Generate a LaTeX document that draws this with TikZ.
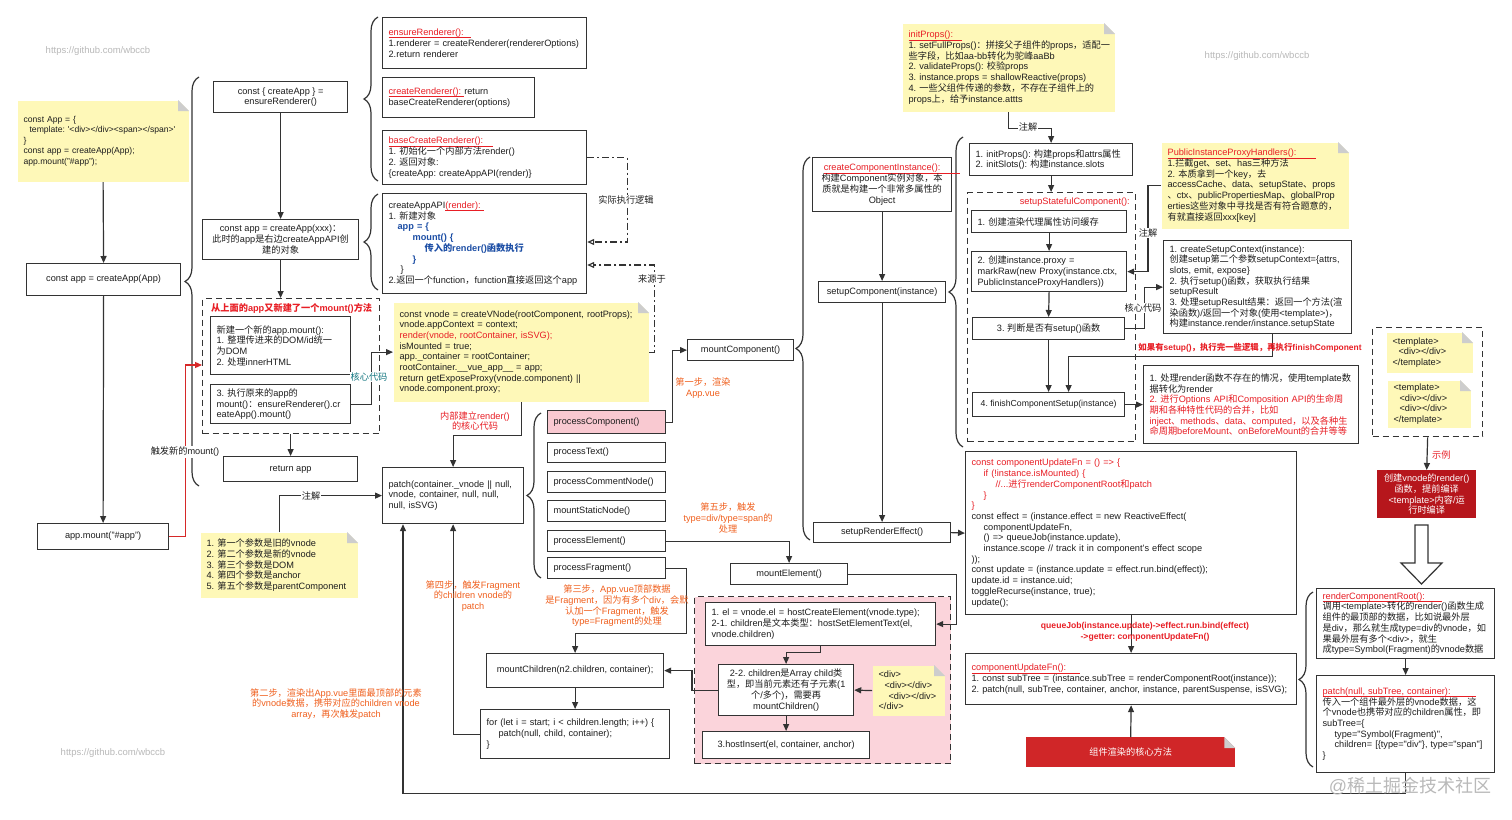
\documentclass[tikz,border=0pt]{standalone}
\usepackage{fontspec}
\setmainfont{Liberation Sans}
\newfontfamily\latinfont{Liberation Sans}
\newfontfamily\cjkfont{Noto Sans CJK SC}
\usetikzlibrary{arrows.meta,decorations.pathreplacing}

\XeTeXinterchartokenstate=1
\chardef\hanclass=7
\newcommand\sethanrange[2]{\count255=#1 \loop\XeTeXcharclass\count255=\hanclass\ifnum\count255<#2 \advance\count255 by 1 \repeat}
\sethanrange{"3000}{"303F}
\sethanrange{"4E00}{"9FFF}
\sethanrange{"FF00}{"FFEF}
\XeTeXinterchartoks 0 \hanclass = {\cjkfont}
\XeTeXinterchartoks 4095 \hanclass = {\cjkfont}
\XeTeXinterchartoks \hanclass 0 = {\latinfont}
\XeTeXinterchartoks \hanclass 4095 = {\latinfont}
\frenchspacing

\definecolor{linegray}{RGB}{51,51,51}
\definecolor{txtblack}{RGB}{30,30,30}
\definecolor{fnred}{RGB}{232,30,37}
\definecolor{trigred}{RGB}{214,40,40}
\definecolor{steporange}{RGB}{240,96,30}
\definecolor{notey}{RGB}{254,248,184}
\definecolor{foldgray}{RGB}{205,205,205}
\definecolor{pinkarea}{RGB}{251,212,219}
\definecolor{pinkbox}{RGB}{249,201,209}
\definecolor{codeblue}{RGB}{28,78,165}
\definecolor{tealtext}{RGB}{18,118,128}
\definecolor{deepred}{RGB}{182,22,28}
\definecolor{corered}{RGB}{208,38,40}
\definecolor{markgray}{RGB}{185,185,185}

\newcommand\fnhead[2]{\leavevmode{\color{fnred}\rlap{\rule[-2.4pt]{#2}{0.6pt}}#1}}
\newcommand\notefold[3]{%
  \fill[#2] ([xshift=-11pt]#1.north east) -- (#1.north east) -- ([yshift=-11pt]#1.north east) -- cycle;
  \fill[#3] ([xshift=-11pt]#1.north east) -- ([xshift=-11pt,yshift=-11pt]#1.north east) -- ([yshift=-11pt]#1.north east) -- cycle;}

\begin{document}
\begin{tikzpicture}[x=1pt, y=-1pt,
  font=\fontsize{9.2}{10.7}\selectfont\frenchspacing,
  fnbox/.style={draw=linegray, line width=1.2pt, fill=white, text=txtblack, anchor=north west, inner xsep=6pt, inner ysep=2pt},
  leftbox/.style={fnbox, align=left, execute at begin node={\rightskip=0pt plus 1fil minus 2000pt}},
  notebox/.style={leftbox, draw=none, fill=notey},
  dashbox/.style={draw=linegray, line width=1.3pt, dash pattern=on 6pt off 4pt, anchor=north west, inner sep=0pt},
  flow/.style={draw=linegray, line width=1.2pt, -{Triangle[length=7pt,width=6pt]}},
  hintflow/.style={flow, dash pattern=on 7pt off 3pt on 2pt off 3pt, -{Triangle[open,length=7pt,width=6pt]}},
  curly/.style={draw=linegray, line width=1.2pt, decorate, decoration={brace, amplitude=14pt}},
  onlink/.style={fill=white, inner sep=1pt, text=txtblack},
  stepnote/.style={text=steporange, align=center, inner sep=0pt},
  wmark/.style={text=markgray, inner sep=0pt, font=\fontsize{9.5}{11}\selectfont}]
\useasboundingbox (0,0) rectangle (1512,819);
\fill[white] (0,0) rectangle (1512,819);

\node[wmark] (gh1) at (98,51) {https://github.com/wbccb};
\node[wmark] (gh2) at (1257,56) {https://github.com/wbccb};
\node[wmark] (gh3) at (113,753) {https://github.com/wbccb};

\draw[curly] (199,486) -- (199,77);
\draw[curly] (378,181) -- (378,17);
\draw[curly] (378,290) -- (378,194);
\draw[curly] (541,578) -- (541,413);
\draw[curly] (810,540) -- (810,157);
\draw[curly] (963,447) -- (963,137);
\draw[curly] (1313,767) -- (1313,592);

\node[notebox, text width=159pt, minimum height=81, font=\fontsize{8.6}{10.4}\selectfont] (appNote) at (17,100) {const App = \{\\\hspace*{6pt}template: \textquotesingle<div></div><span></span>\textquotesingle\\\}\\const app = createApp(App);\\app.mount("\#app");};
\notefold{appNote}{white}{foldgray}
\node[fnbox, minimum width=154, minimum height=32] (createApp) at (26,263) {const app = createApp(App)};
\node[fnbox, minimum width=131, minimum height=26] (appMount) at (37,523) {app.mount("\#app")};
\node[fnbox, align=center, minimum width=134, minimum height=31] (ensureCall) at (213,81) {const \{ createApp \} =\\ensureRenderer()};
\node[fnbox, align=center, minimum width=156, minimum height=40] (createAppXxx) at (202,219) {const app = createApp(xxx)：\\此时的app是右边createAppAPI创\\建的对象};
\node[dashbox, minimum width=177, minimum height=135] (mountArea) at (202,298) {};
\node[anchor=west, text=fnred, font=\bfseries\fontsize{9.2}{10.7}\selectfont, inner sep=0pt] (mountTitle) at (211,308) {从上面的app又新建了一个mount()方法};
\node[leftbox, text width=128pt, minimum height=58] (newMount) at (210,316) {新建一个新的app.mount():\\1. 整理传进来的DOM/id统一\\为DOM\\2. 处理innerHTML};
\node[leftbox, text width=128pt, minimum height=39] (oldMount) at (210,384) {3. 执行原来的app的\\mount()：ensureRenderer().cr\\eateApp().mount()};
\node[fnbox, minimum width=134, minimum height=25] (returnApp) at (223,456) {return app};
\node[notebox, text width=145pt, minimum height=65] (argNote) at (200,532) {1. 第一个参数是旧的vnode\\2. 第二个参数是新的vnode\\3. 第三个参数是DOM\\4. 第四个参数是anchor\\5. 第五个参数是parentComponent};
\notefold{argNote}{white}{foldgray}

\node[leftbox, text width=192pt, minimum height=51] (ensureFn) at (382,17) {\fnhead{ensureRenderer():}{82pt}\\1.renderer = createRenderer(rendererOptions)\\2.return renderer};
\node[leftbox, text width=140pt, minimum height=40] (createFn) at (382,77) {\fnhead{createRenderer():}{75pt} return\\baseCreateRenderer(options)};
\node[leftbox, text width=192pt, minimum height=54] (baseFn) at (382,130) {\fnhead{baseCreateRenderer():}{104pt}\\1. 初始化一个内部方法render()\\2. 返回对象:\\\{createApp: createAppAPI(render)\}};
\node[leftbox, text width=192pt, minimum height=100] (appApiFn) at (382,193) {createAppAPI\fnhead{(render):}{39pt}\\1. 新建对象\\\hspace*{9pt}{\color{codeblue}\bfseries app = \{}\\\hspace*{24pt}{\color{codeblue}\bfseries mount() \{}\\\hspace*{36pt}{\color{codeblue}\bfseries 传入的render()函数执行}\\\hspace*{24pt}{\color{codeblue}\bfseries \}}\\\hspace*{12pt}\}\\2.返回一个function，function直接返回这个app};
\node[notebox, text width=243pt, minimum height=99] (vnodeNote) at (393,302) {const vnode = createVNode(rootComponent, rootProps);\\vnode.appContext = context;\\{\color{fnred}render(vnode, rootContainer, isSVG);}\\isMounted = true;\\app.\_container = rootContainer;\\rootContainer.\_\_vue\_app\_\_ = app;\\return getExposeProxy(vnode.component) ||\\vnode.component.proxy;};
\notefold{vnodeNote}{white}{foldgray}
\node[leftbox, text width=129pt, minimum height=56] (patchFn) at (382,467) {patch(container.\_vnode || null,\\vnode, container, null, null,\\null, isSVG)};

\node[leftbox, fill=pinkbox, text width=106pt, minimum height=23] (procComp) at (547,410) {processComponent()};
\node[leftbox, text width=106pt, minimum height=20] (procText) at (547,442) {processText()};
\node[leftbox, text width=106pt, minimum height=21] (procComment) at (547,471) {processCommentNode()};
\node[leftbox, text width=106pt, minimum height=21] (mountStatic) at (547,500) {mountStaticNode()};
\node[leftbox, text width=106pt, minimum height=21] (procElem) at (547,530) {processElement()};
\node[leftbox, text width=106pt, minimum height=21] (procFrag) at (547,557) {processFragment()};
\node[fnbox, minimum width=106, minimum height=21] (mountComp) at (687,339) {mountComponent()};
\node[fnbox, minimum width=117, minimum height=21] (mountElem) at (730,563) {mountElement()};
\node[fnbox, minimum width=177, minimum height=34] (mountChildren) at (486,653) {mountChildren(n2.children, container);};
\node[leftbox, text width=177pt, minimum height=49] (forBox) at (480,709) {for (let i = start; i < children.length; i++) \{\\\hspace*{12pt}patch(null, child, container);\\\}};

\node[dashbox, fill=pinkarea, minimum width=256, minimum height=167] (elemArea) at (694,596) {};
\node[leftbox, text width=218pt, minimum height=43] (elBox) at (705,602) {1. el = vnode.el = hostCreateElement(vnode.type);\\2-1. children是文本类型：hostSetElementText(el,\\vnode.children)};
\node[fnbox, align=center, minimum width=135, minimum height=51] (childBox) at (718,664) {2-2. children是Array child类\\型，即当前元素还有子元素(1\\个/多个)，需要再\\mountChildren()};
\node[fnbox, minimum width=167, minimum height=27] (insertBox) at (702,731) {3.hostInsert(el, container, anchor)};
\node[notebox, text width=60pt, minimum height=50] (divNote) at (872,665) {<div>\\\hspace*{6pt}<div></div>\\\hspace*{10pt}<div></div>\\</div>};
\notefold{divNote}{pinkarea}{foldgray}

\node[fnbox, align=center, minimum width=139, minimum height=54] (compInst) at (812,157) {\fnhead{createComponentInstance():}{136pt}\\构建Component实例对象，本\\质就是构建一个非常多属性的\\Object};
\node[fnbox, minimum width=127, minimum height=21] (setupComp) at (818,281) {setupComponent(instance)};
\node[fnbox, minimum width=137, minimum height=20] (renderEffect) at (813,522) {setupRenderEffect()};
\node[notebox, text width=200pt, minimum height=88] (initNote) at (902,23) {\fnhead{initProps():}{53pt}\\1. setFullProps()：拼接父子组件的props，适配一\\些字段，比如aa-bb转化为驼峰aaBb\\2. validateProps(): 校验props\\3. instance.props = shallowReactive(props)\\4. 一些父组件传递的参数，不存在子组件上的\\props上，给予instance.attts};
\notefold{initNote}{white}{foldgray}
\node[leftbox, text width=151pt, minimum height=32] (initBox) at (969,143) {1. initProps(): 构建props和attrs属性\\2. initSlots(): 构建instance.slots};
\node[dashbox, minimum width=168, minimum height=249] (statefulArea) at (967,192) {};
\node[anchor=east, text=fnred, inner sep=0pt] (statefulTitle) at (1130,202) {setupStatefulComponent():};
\node[leftbox, text width=143pt, minimum height=22] (s1) at (971,210) {1. 创建渲染代理属性访问缓存};
\node[leftbox, text width=143pt, minimum height=40] (s2) at (971,251) {2. 创建instance.proxy =\\markRaw(new Proxy(instance.ctx,\\PublicInstanceProxyHandlers))};
\node[fnbox, minimum width=152, minimum height=22] (s3) at (972,317) {3. 判断是否有setup()函数};
\node[fnbox, minimum width=152, minimum height=24, font=\fontsize{8.7}{10.5}\selectfont] (s4) at (972,392) {4. finishComponentSetup(instance)};
\node[notebox, text width=175pt, minimum height=86] (proxyNote) at (1161,142) {\fnhead{PublicInstanceProxyHandlers():}{148pt}\\1.拦截get、set、has三种方法\\2. 本质拿到一个key，去\\accessCache、data、setupState、props\\、ctx、publicPropertiesMap、globalProp\\erties这些对象中寻找是否有符合题意的，\\有就直接返回xxx[key]};
\notefold{proxyNote}{white}{foldgray}
\node[leftbox, text width=176pt, minimum height=93] (ctxBox) at (1163,240) {1. createSetupContext(instance):\\创建setup第二个参数setupContext=\{attrs,\\slots, emit, expose\}\\2. 执行setup()函数，获取执行结果\\setupResult\\3. 处理setupResult结果：返回一个方法(渲\\染函数)/返回一个对象(使用<template>)，\\构建instance.render/instance.setupState};
\node[leftbox, text width=203pt, minimum height=78] (finishBox) at (1143,365) {1. 处理render函数不存在的情况，使用template数\\据转化为render\\{\color{fnred}2. 进行Options API和Composition API的生命周}\\{\color{fnred}期和各种特性代码的合并，比如}\\{\color{fnred}inject、methods、data、computed，以及各种生}\\{\color{fnred}命周期beforeMount、onBeforeMount的合并等等}};
\node[leftbox, text width=319pt, minimum height=163] (codeBox) at (965,451) {{\color{fnred}const componentUpdateFn = () => \{}\\{\color{fnred}\hspace*{12pt}if (!instance.isMounted) \{}\\{\color{fnred}\hspace*{24pt}//...进行renderComponentRoot和patch}\\{\color{fnred}\hspace*{12pt}\}}\\{\color{fnred}\}}\\const effect = (instance.effect = new ReactiveEffect(\\\hspace*{12pt}componentUpdateFn,\\\hspace*{12pt}() => queueJob(instance.update),\\\hspace*{12pt}instance.scope // track it in component's effect scope\\));\\const update = (instance.update = effect.run.bind(effect));\\update.id = instance.uid;\\toggleRecurse(instance, true);\\update();};
\node[leftbox, text width=319pt, minimum height=51] (updateBox) at (965,653) {\fnhead{componentUpdateFn():}{108pt}\\1. const subTree = (instance.subTree = renderComponentRoot(instance));\\2. patch(null, subTree, container, anchor, instance, parentSuspense, isSVG);};
\node[fill=corered, text=white, anchor=north west, minimum width=209, minimum height=30, inner sep=0pt] (coreNote) at (1026,737) {组件渲染的核心方法};
\notefold{coreNote}{white}{foldgray}

\node[dashbox, minimum width=110, minimum height=109] (tplArea) at (1372,327) {};
\node[notebox, text width=74pt, minimum height=40] (tplOne) at (1386,332) {<template>\\\hspace*{6pt}<div></div>\\</template>};
\notefold{tplOne}{white}{foldgray}
\node[notebox, text width=71pt, minimum height=47] (tplTwo) at (1387,380) {<template>\\\hspace*{6pt}<div></div>\\\hspace*{6pt}<div></div>\\</template>};
\notefold{tplTwo}{white}{foldgray}
\node[fill=deepred, text=white, align=center, anchor=north west, minimum width=99, minimum height=48, inner sep=0pt] (vnodeRed) at (1377,470) {创建vnode的render()\\函数，提前编译\\<template>内容/运\\行时编译};
\draw[draw=linegray, line width=1.2pt, fill=white] (1415,525) -- (1428,525) -- (1428,563) -- (1442,563) -- (1421.5,584) -- (1401,563) -- (1415,563) -- cycle;
\node[leftbox, text width=166pt, minimum height=70] (rootBox) at (1316,588) {\fnhead{renderComponentRoot():}{119pt}\\调用<template>转化的render()函数生成\\组件的最顶部的数据，比如说最外层\\是div，那么就生成type=div的vnode，如\\果最外层有多个<div>，就生\\成type=Symbol(Fragment)的vnode数据};
\node[leftbox, text width=166pt, minimum height=97] (patchSub) at (1316,675) {\fnhead{patch(null, subTree, container):}{153pt}\\传入一个组件最外层的vnode数据，这\\个vnode也携带对应的children属性，即\\subTree=\{\\\hspace*{12pt}type="Symbol(Fragment)",\\\hspace*{12pt}children= [\{type="div"\}, type="span"]\\\}};

\draw[flow] (appNote.south) -- (createApp.north);
\draw[flow] (createApp.south) -- (appMount.north);
\draw[flow] (ensureCall.south) -- (createAppXxx.north);
\draw[flow] (createAppXxx.south) -- (createAppXxx.south |- mountArea.north);
\draw[flow] (mountArea.south -| returnApp.north) -- (returnApp.north);
\draw[flow, draw=trigred] (appMount.east) -- ++(16,0) |- ([yshift=-67pt]mountArea.north west);
\node[onlink] (triggerTag) at (185,452) {触发新的mount()};
\draw[flow] (oldMount.east) -- ++(20,0) |- (vnodeNote.west);
\node[onlink, text=tealtext] (coreTag) at (369,377) {核心代码};
\draw[flow] (argNote.north) |- (patchFn.west);
\node[onlink] (argTag) at (311,496) {注解};
\draw[hintflow] (baseFn.east) -- ++(40,0) |- (appApiFn.east |- 0,242);
\node[onlink] (realTag) at (626,200) {实际执行逻辑};
\draw[hintflow] (vnodeNote.east) -- ++(5,0) |- (appApiFn.east |- 0,265);
\node[onlink] (fromTag) at (652,279) {来源于};
\draw[flow] (vnodeNote.south) -- ++(0,33) -| (patchFn.north);
\node[text=fnred, align=center, inner sep=0pt] (renderTag) at (475,421) {内部建立render()\\的核心代码};

\draw[flow] (patchSub.south) -- ++(0,20) -| ([xshift=21pt]patchFn.south west);
\draw[flow] (forBox.west) -| (patchFn.south);
\draw[flow] (mountChildren.south) -- (forBox.north);
\draw[flow] (procFrag.east) -- ++(20,0) -- ++(0,65) -| (mountChildren.north);
\draw[flow] (childBox.west) -- ++(-26,0) |- (mountChildren.east);
\draw[flow] (elBox.south) -- ++(0,6) -| (childBox.north);
\draw[flow] (childBox.south) -- (insertBox.north);
\draw[flow] (divNote.west) -- (childBox.east);
\draw[flow] (mountElem.east) -- ++(108,0) |- (elBox.east);
\draw[flow] (procElem.east) -| (mountElem.north);
\draw[flow] (procComp.east) -- ++(6,0) |- (mountComp.west);

\node[stepnote] (stepOne) at (703,388) {第一步，渲染\\App.vue};
\node[stepnote] (stepTwo) at (336,704) {第二步，渲染出App.vue里面最顶部的元素\\的vnode数据，携带对应的children vnode\\array，再次触发patch};
\node[stepnote] (stepThree) at (617,606) {第三步，App.vue顶部数据\\是Fragment，因为有多个div，会默\\认加一个Fragment，触发\\type=Fragment的处理};
\node[stepnote] (stepFour) at (473,596) {第四步，触发Fragment\\的children vnode的\\patch};
\node[stepnote] (stepFive) at (728,518) {第五步，触发\\type=div/type=span的\\处理};

\draw[flow] (compInst.south) -- (setupComp.north);
\draw[flow] (setupComp.south) -- (renderEffect.north);
\draw[flow] (renderEffect.east) -- (codeBox.west);
\draw[flow] (initNote.south) -- ++(0,16) -| (initBox.north);
\node[onlink] (initTag) at (1028,127) {注解};
\draw[flow] (initBox.south) -- (initBox.south |- statefulArea.north);
\draw[flow] (s1.south) -- (s2.north);
\draw[flow] (s2.south) -- (s3.north);
\draw[flow] (s3.south) -- (s4.north);
\draw[flow] (proxyNote.west) -- ++(-13,0) |- (s2.east);
\node[onlink] (proxyTag) at (1148,233) {注解};
\draw[flow] (s3.east) -- ++(19,0) |- (ctxBox.west);
\node[onlink] (setupTag) at (1143,308) {核心代码};
\draw[flow] ([xshift=15pt]ctxBox.south) -- ++(0,22) -| ([xshift=20pt]s4.north);
\node[text=fnred, font=\bfseries\fontsize{8.4}{10}\selectfont, inner sep=0pt] (finishTag) at (1250,348) {如果有setup()，执行完一些逻辑，再执行finishComponent};
\draw[flow] (s4.east) -- (finishBox.west);
\draw[flow] (codeBox.south) -- (updateBox.north);
\node[text=fnred, font=\bfseries\fontsize{8.6}{11}\selectfont, align=center, inner sep=0pt] (queueTag) at (1145,632) {queueJob(instance.update)->effect.run.bind(effect)\\->getter: componentUpdateFn()};
\draw[flow] (coreNote.north) -- (updateBox.south);
\draw[flow] (tplArea.south) -- (vnodeRed.north);
\node[text=fnred, anchor=west, inner sep=0pt] (sampleTag) at (1432,455) {示例};
\draw[flow] (rootBox.south) -- (patchSub.north);

\node[text=markgray, font=\fontsize{18}{20}\selectfont, inner sep=0pt] (juejin) at (1410,786) {@稀土掘金技术社区};
\end{tikzpicture}
\end{document}
